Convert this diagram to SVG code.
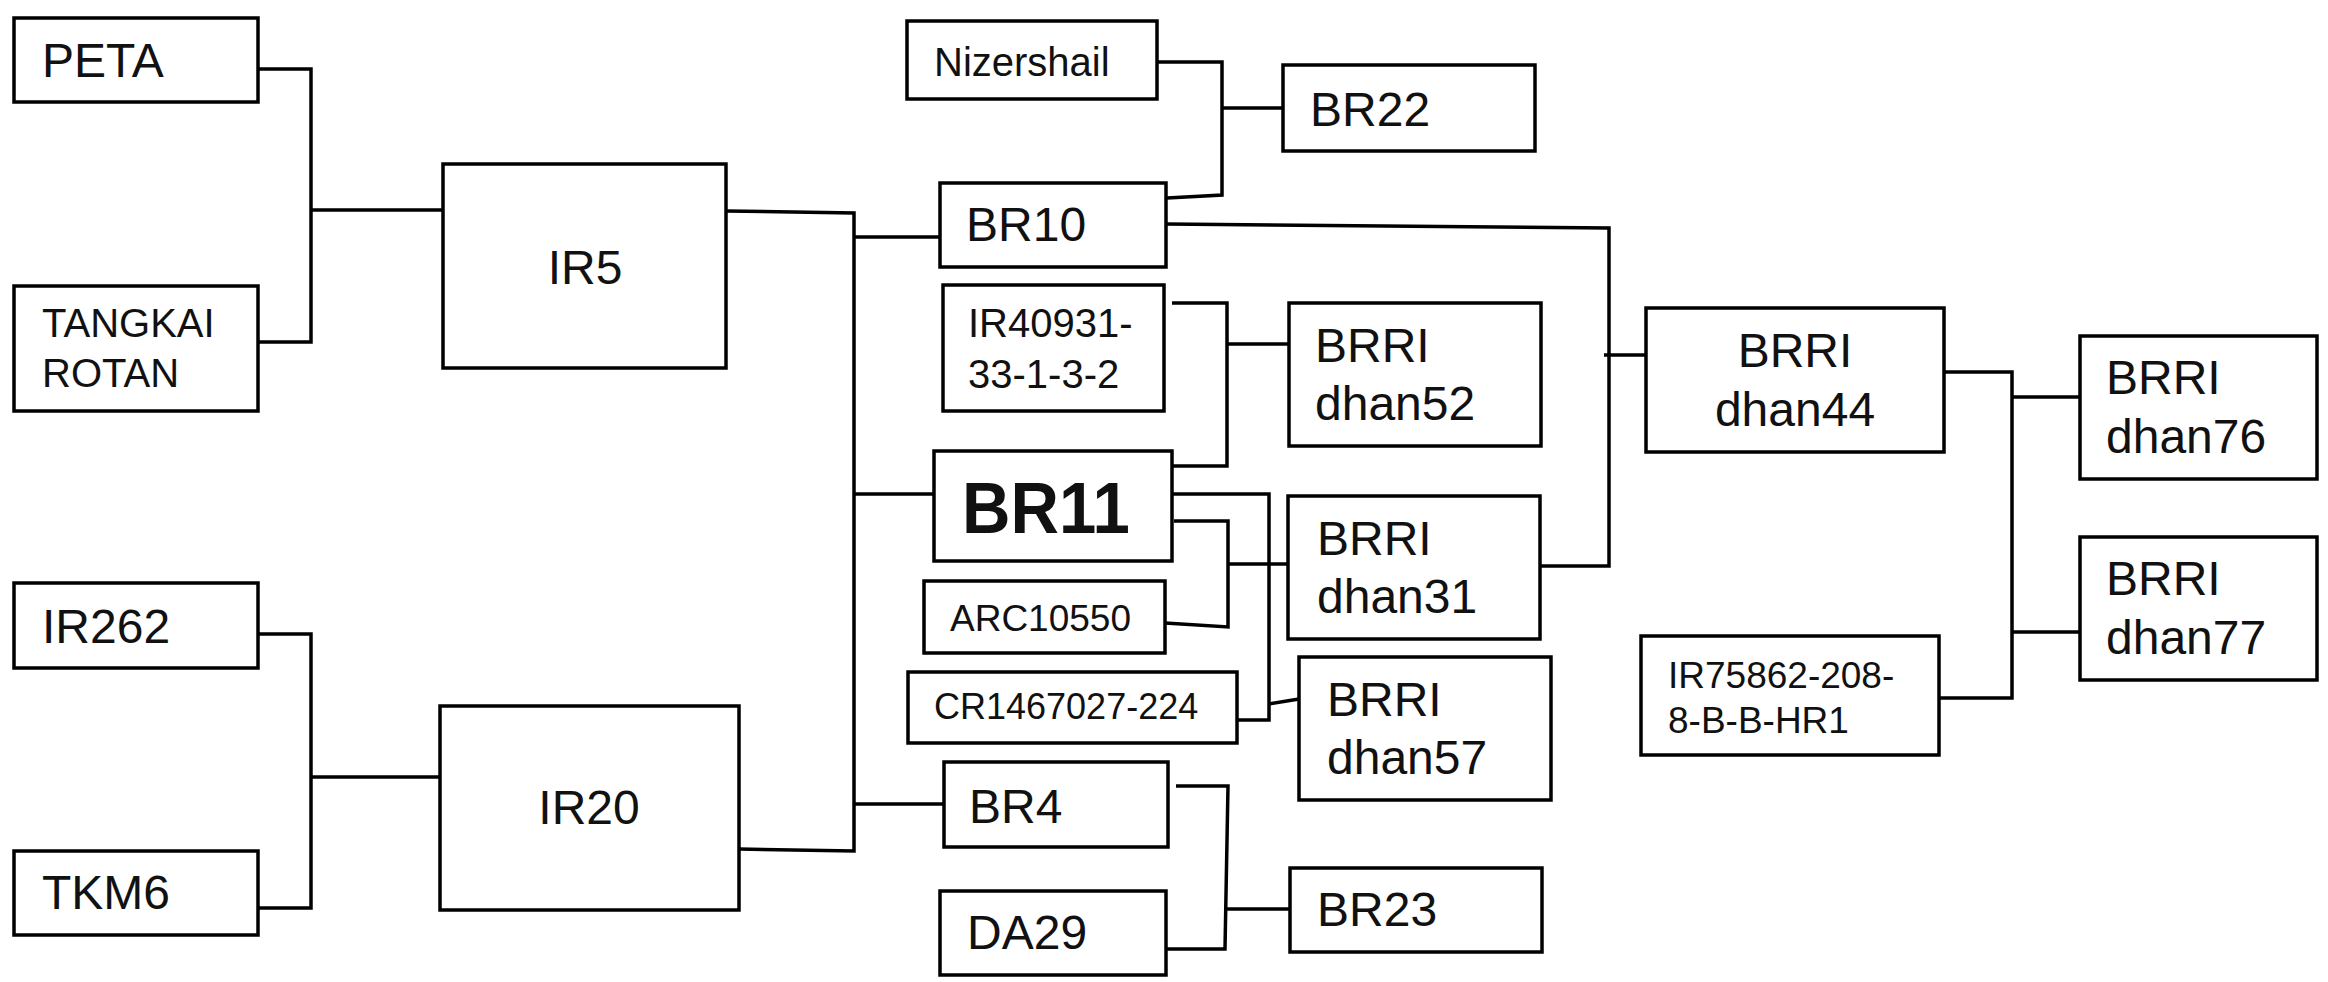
<svg xmlns="http://www.w3.org/2000/svg" width="2328" height="982" viewBox="0 0 2328 982">
<style>
.box{fill:#fff;stroke:#000;stroke-width:3.5}
.t{font-family:"Liberation Sans",Arial,sans-serif;fill:#111}
.L{font-size:48px}
.M{font-size:40px}
.S{font-size:37px}
.big{font-size:73px;font-weight:bold;transform-box:fill-box;transform-origin:0 0;transform:scaleX(0.92)}
.c{fill:none;stroke:#000;stroke-width:3.5;stroke-linejoin:miter}
</style>
<rect width="2328" height="982" fill="#fff"/>
<g id="connectors">
<path class="c" d="M258,69 H311 V342 H258 M311,210 H443"/>
<path class="c" d="M258,634 H311 V908 H258 M311,777 H440"/>
<path class="c" d="M726,211 L854,213 V851 L739,849 M854,237 H940 M854,494 H934 M854,804 H944"/>
<path class="c" d="M1157,62 H1222 V195 L1167,198 M1222,108 H1283"/>
<path class="c" d="M1172,303 H1227 V466 H1172 M1227,344 H1289"/>
<path class="c" d="M1174,521 H1228 V627 L1165,623 M1228,564 H1288"/>
<path class="c" d="M1172,494 H1269 V720 H1237 M1269,704 L1299,699"/>
<path class="c" d="M1176,786 H1228 L1225,949 H1166 M1225,909 H1290"/>
<path class="c" d="M1166,224 L1609,228 V566 H1540 M1604,355 H1646"/>
<path class="c" d="M1944,372 H2012 V698 H1939 M2012,397 H2080 M2012,632 H2080"/>
</g>
<g id="PETA"><rect class="box" x="14" y="18" width="244" height="84"/><text class="t L" x="42" y="77">PETA</text></g>
<g id="TANGKAI_ROTAN"><rect class="box" x="14" y="286" width="244" height="125"/><text class="t M" x="42" y="337">TANGKAI</text><text class="t M" x="42" y="387">ROTAN</text></g>
<g id="IR5"><rect class="box" x="443" y="164" width="283" height="204"/><text class="t L" x="585" y="284" text-anchor="middle">IR5</text></g>
<g id="IR262"><rect class="box" x="14" y="583" width="244" height="85"/><text class="t L" x="42" y="643">IR262</text></g>
<g id="TKM6"><rect class="box" x="14" y="851" width="244" height="84"/><text class="t L" x="42" y="909">TKM6</text></g>
<g id="IR20"><rect class="box" x="440" y="706" width="299" height="204"/><text class="t L" x="589" y="824" text-anchor="middle">IR20</text></g>
<g id="Nizershail"><rect class="box" x="907" y="21" width="250" height="78"/><text class="t M" x="934" y="76">Nizershail</text></g>
<g id="BR22"><rect class="box" x="1283" y="65" width="252" height="86"/><text class="t L" x="1310" y="126">BR22</text></g>
<g id="BR10"><rect class="box" x="940" y="183" width="226" height="84"/><text class="t L" x="966" y="241">BR10</text></g>
<g id="IR40931"><rect class="box" x="943" y="285" width="221" height="126"/><text class="t M" x="968" y="337">IR40931-</text><text class="t M" x="968" y="388">33-1-3-2</text></g>
<g id="BRRI_dhan52"><rect class="box" x="1289" y="303" width="252" height="143"/><text class="t L" x="1315" y="362">BRRI</text><text class="t L" x="1315" y="420">dhan52</text></g>
<g id="BR11"><rect class="box" x="934" y="451" width="238" height="110"/><text class="t big" x="962" y="533">BR11</text></g>
<g id="ARC10550"><rect class="box" x="924" y="581" width="241" height="72"/><text class="t S" x="950" y="631">ARC10550</text></g>
<g id="CR1467027-224"><rect class="box" x="908" y="672" width="329" height="71"/><text class="t" x="934" y="719" font-size="36">CR1467027-224</text></g>
<g id="BRRI_dhan31"><rect class="box" x="1288" y="496" width="252" height="143"/><text class="t L" x="1317" y="555">BRRI</text><text class="t L" x="1317" y="613">dhan31</text></g>
<g id="BRRI_dhan57"><rect class="box" x="1299" y="657" width="252" height="143"/><text class="t L" x="1327" y="716">BRRI</text><text class="t L" x="1327" y="774">dhan57</text></g>
<g id="BR4"><rect class="box" x="944" y="762" width="224" height="85"/><text class="t L" x="969" y="823">BR4</text></g>
<g id="DA29"><rect class="box" x="940" y="891" width="226" height="84"/><text class="t L" x="967" y="949">DA29</text></g>
<g id="BR23"><rect class="box" x="1290" y="868" width="252" height="84"/><text class="t L" x="1317" y="926">BR23</text></g>
<g id="BRRI_dhan44"><rect class="box" x="1646" y="308" width="298" height="144"/><text class="t L" x="1795" y="367" text-anchor="middle">BRRI</text><text class="t L" x="1795" y="426" text-anchor="middle">dhan44</text></g>
<g id="BRRI_dhan76"><rect class="box" x="2080" y="336" width="237" height="143"/><text class="t L" x="2106" y="394">BRRI</text><text class="t L" x="2106" y="453">dhan76</text></g>
<g id="BRRI_dhan77"><rect class="box" x="2080" y="537" width="237" height="143"/><text class="t L" x="2106" y="595">BRRI</text><text class="t L" x="2106" y="654">dhan77</text></g>
<g id="IR75862"><rect class="box" x="1641" y="636" width="298" height="119"/><text class="t S" x="1668" y="688">IR75862-208-</text><text class="t S" x="1668" y="733">8-B-B-HR1</text></g>
</svg>
